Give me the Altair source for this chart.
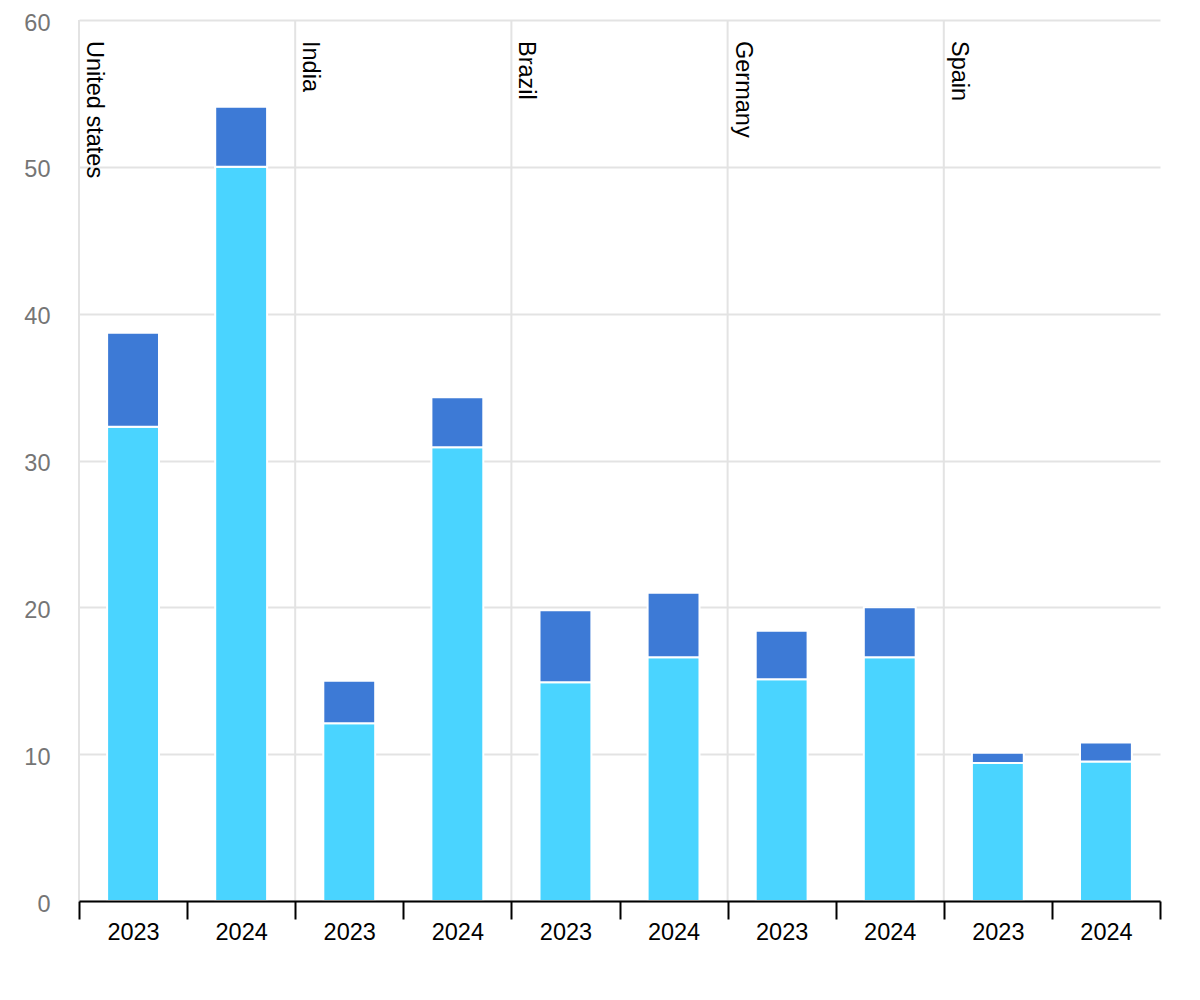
import altair as alt
import pandas as pd

countries = ["United states", "India", "Brazil", "Germany", "Spain"]
years = ["2023", "2024"]
series_names = ["Series 1", "Series 2"]
series_colors = ["#4AD4FF", "#3D7AD6"]
# values per country/year in order: US 2023, US 2024, India 2023, ...
base_values = [32.3, 50.0, 12.1, 30.9, 14.9, 16.6, 15.1, 16.6, 9.4, 9.5]
extra_values = [6.4, 4.1, 2.9, 3.4, 4.9, 4.4, 3.3, 3.4, 0.7, 1.3]
y_ticks = [0, 10, 20, 30, 40, 50, 60]

FONT = "Liberation Sans"
FS = 23.5

keys = [f"{c}|{y}" for c in countries for y in years]
rows = []
for i, k in enumerate(keys):
    rows.append({"key": k, "series": series_names[0], "ord": 0, "value": base_values[i]})
    rows.append({"key": k, "series": series_names[1], "ord": 1, "value": extra_values[i]})
df = pd.DataFrame(rows)

group_df = pd.DataFrame({"key": [f"{c}|{years[0]}" for c in countries], "country": countries})

x_scale = alt.Scale(domain=keys, paddingInner=0, paddingOuter=0)
x_axis = alt.Axis(
    title=None,
    labelExpr="split(datum.value, '|')[1]",
    labelAngle=0,
    tickBand="extent",
    tickSize=18,
    tickWidth=2,
    tickColor="black",
    domainColor="black",
    domainWidth=2,
    labelColor="black",
    labelFontSize=FS,
    labelFont=FONT,
    labelPadding=1,
    grid=False,
    zindex=1,
)

rules = alt.Chart(group_df).mark_rule(color="#e3e3e3", strokeWidth=2).encode(
    x=alt.X("key:N", scale=x_scale, sort=keys, bandPosition=0, axis=x_axis)
)

bars = alt.Chart(df).mark_bar(
    stroke="white", strokeWidth=2, width=alt.RelativeBandSize(0.48)
).encode(
    x=alt.X("key:N", scale=x_scale, sort=keys, axis=x_axis),
    y=alt.Y(
        "value:Q",
        stack="zero",
        scale=alt.Scale(domain=[0, 60], nice=False),
        axis=alt.Axis(
            title=None,
            values=y_ticks,
            grid=True,
            gridColor="#e3e3e3",
            gridWidth=2,
            domain=False,
            ticks=False,
            tickSize=0,
            labelColor="#757575",
            labelFontSize=FS,
            labelFont=FONT,
            labelPadding=29,
            labelOffset=3,
        ),
    ),
    color=alt.Color("series:N", scale=alt.Scale(domain=series_names, range=series_colors), legend=None),
    order=alt.Order("ord:Q"),
)

labels = alt.Chart(group_df).mark_text(
    angle=90, align="left", baseline="alphabetic", dx=21, dy=-8,
    fontSize=FS, font=FONT, color="black"
).encode(
    x=alt.X("key:N", scale=x_scale, sort=keys, bandPosition=0, axis=x_axis),
    y=alt.value(0),
    text="country:N",
)

chart = alt.layer(rules, bars, labels).properties(
    width=1081,
    height=881,
    autosize=alt.AutoSizeParams(type="none"),
    padding={"left": 71, "top": 12, "right": 32, "bottom": 90},
).configure_view(stroke=None)

chart.save("out.html", embed_options={"renderer": "svg", "actions": False})
